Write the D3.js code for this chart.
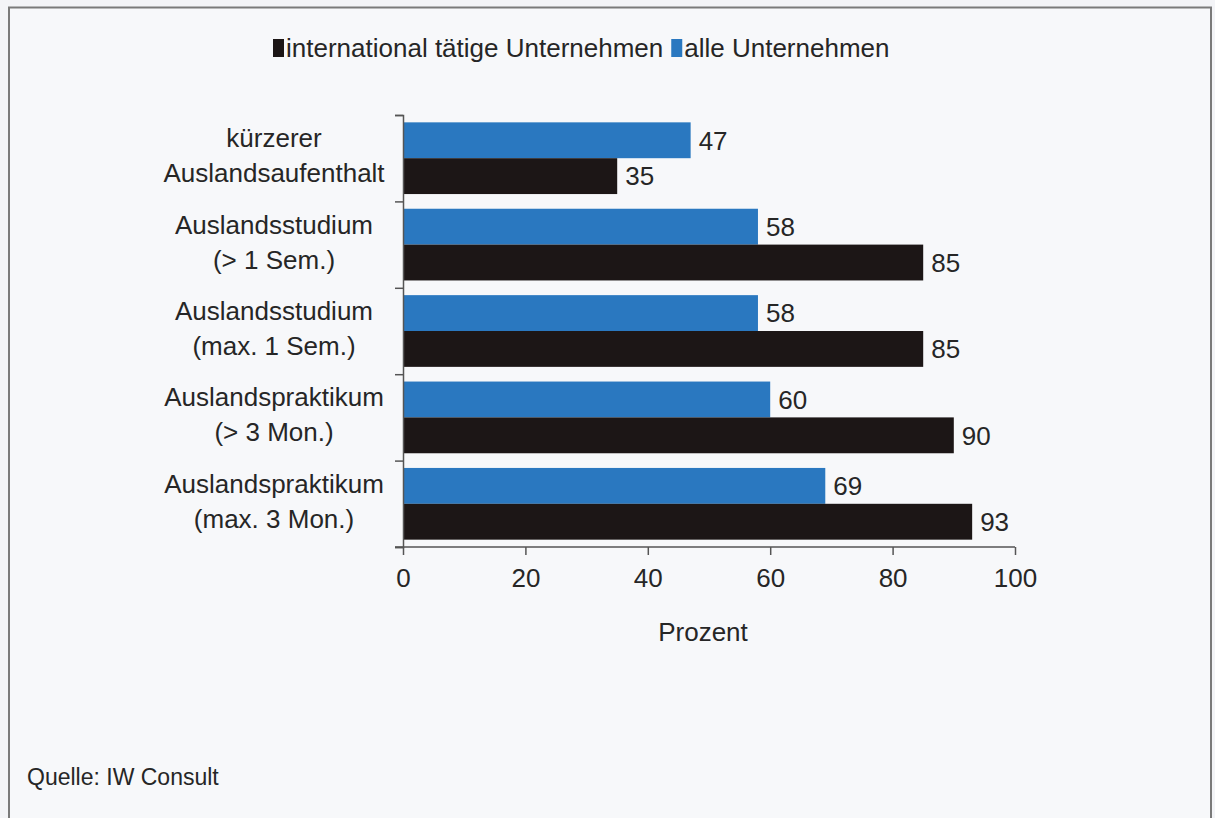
<!DOCTYPE html>
<html>
<head>
<meta charset="utf-8">
<script src="https://cdn.jsdelivr.net/npm/d3@7"></script>
<style>
  body { margin: 0; background: #f3f4f7; }
  text { font-family: "Liberation Sans", Arial, sans-serif; fill: #262626; }
</style>
</head>
<body>
<div id="chart"></div>
<script>
const categories = [
    ["kürzerer", "Auslandsaufenthalt"],
    ["Auslandsstudium", "(> 1 Sem.)"],
    ["Auslandsstudium", "(max. 1 Sem.)"],
    ["Auslandspraktikum", "(> 3 Mon.)"],
    ["Auslandspraktikum", "(max. 3 Mon.)"]
];
const alleValues = [47, 58, 58, 60, 69];
const internationalValues = [35, 85, 85, 90, 93];
const xTicks = [0, 20, 40, 60, 80, 100];
const seriesNames = ["international tätige Unternehmen", "alle Unternehmen"];

const width = 1215, height = 818;
const svg = d3.select("#chart").append("svg")
    .attr("width", width)
    .attr("height", height);

// page frame
svg.append("rect")
    .attr("x", 9).attr("y", 7.5)
    .attr("width", 1202).attr("height", 820)
    .attr("fill", "#f7f8fa")
    .attr("stroke", "#7a7a7a")
    .attr("stroke-width", 2);

const margin = { top: 115, left: 403, right: 200, bottom: 271 };
const graphWidth = 1015 - margin.left;
const graphHeight = 547 - margin.top;

const graph = svg.append("g")
    .attr("transform", `translate(${margin.left},${margin.top})`);

const keys = categories.map((d, i) => i);
const y = d3.scaleBand()
    .domain(keys)
    .range([0, graphHeight])
    .paddingInner(0.17)
    .paddingOuter(0.085);

const x = d3.scaleLinear()
    .domain([0, 100])
    .range([0, graphWidth]);

const sub = d3.scaleBand()
    .domain(["alle", "international"])
    .range([0, y.bandwidth()]);

const color = { alle: "#2a78c0", international: "#1c1616" };

const rows = keys.map(i => ({ i, alle: alleValues[i], international: internationalValues[i] }));

const groups = graph.selectAll("g.grp")
    .data(rows)
    .enter()
    .append("g")
    .attr("class", "grp")
    .attr("transform", d => `translate(0,${y(d.i)})`);

groups.selectAll("rect")
    .data(d => ["alle", "international"].map(k => ({ k, v: d[k] })))
    .enter()
    .append("rect")
    .attr("x", 0)
    .attr("y", d => sub(d.k))
    .attr("width", d => x(d.v))
    .attr("height", sub.bandwidth())
    .attr("fill", d => color[d.k]);

groups.selectAll("text.val")
    .data(d => ["alle", "international"].map(k => ({ k, v: d[k] })))
    .enter()
    .append("text")
    .attr("class", "val")
    .attr("x", d => x(d.v) + 8)
    .attr("y", d => sub(d.k) + sub.bandwidth() / 2)
    .attr("dy", "0.36em")
    .style("font-size", "26px")
    .text(d => d.v);

// axes
const yAxis = d3.axisLeft(d3.scaleLinear().domain([0, 5]).range([0, graphHeight]))
    .ticks(5)
    .tickSize(8)
    .tickFormat("");
const yAxisGroup = graph.append("g").call(yAxis);
yAxisGroup.select(".domain").attr("stroke", "#555").attr("stroke-width", 1.5);
yAxisGroup.selectAll(".tick line").attr("stroke", "#555").attr("stroke-width", 1.5);

const xAxis = d3.axisBottom(x)
    .tickValues(xTicks)
    .tickSize(8)
    .tickPadding(14);
const xAxisGroup = graph.append("g")
    .attr("transform", `translate(0,${graphHeight})`)
    .call(xAxis);
xAxisGroup.select(".domain").attr("stroke", "#555").attr("stroke-width", 1.5)
    .attr("d", `M-8,0H${graphWidth}`);
xAxisGroup.selectAll(".tick line").attr("stroke", "#555").attr("stroke-width", 1.5);
xAxisGroup.selectAll("text")
    .style("font-size", "26px")
    .style("font-family", "'Liberation Sans', Arial, sans-serif")
    .attr("fill", "#262626");

// category labels
const labelX = 274 - margin.left;
const catLabels = graph.selectAll("text.cat")
    .data(rows)
    .enter()
    .append("text")
    .attr("class", "cat")
    .attr("text-anchor", "middle")
    .style("font-size", "26px");
catLabels.append("tspan")
    .attr("x", labelX)
    .attr("y", d => y(d.i) + y.bandwidth() / 2 - 11)
    .text(d => categories[d.i][0]);
catLabels.append("tspan")
    .attr("x", labelX)
    .attr("y", d => y(d.i) + y.bandwidth() / 2 + 24)
    .text(d => categories[d.i][1]);

// x axis title
svg.append("text")
    .attr("x", 703)
    .attr("y", 641)
    .attr("text-anchor", "middle")
    .style("font-size", "26px")
    .text("Prozent");

// legend
const legend = svg.append("g").attr("transform", "translate(273,48)");
const legendColors = [color.international, color.alle];
let lx = 0;
seriesNames.forEach((name, i) => {
    legend.append("rect")
        .attr("x", lx).attr("y", -9)
        .attr("width", 11).attr("height", 18)
        .attr("fill", legendColors[i]);
    const t = legend.append("text")
        .attr("x", lx + 13)
        .attr("y", 9)
        .style("font-size", "26px")
        .text(name);
    lx += 13 + t.node().getComputedTextLength() + 8;
});

// source
svg.append("text")
    .attr("x", 27)
    .attr("y", 785)
    .style("font-size", "23px")
    .text("Quelle: IW Consult");
</script>
</body>
</html>
